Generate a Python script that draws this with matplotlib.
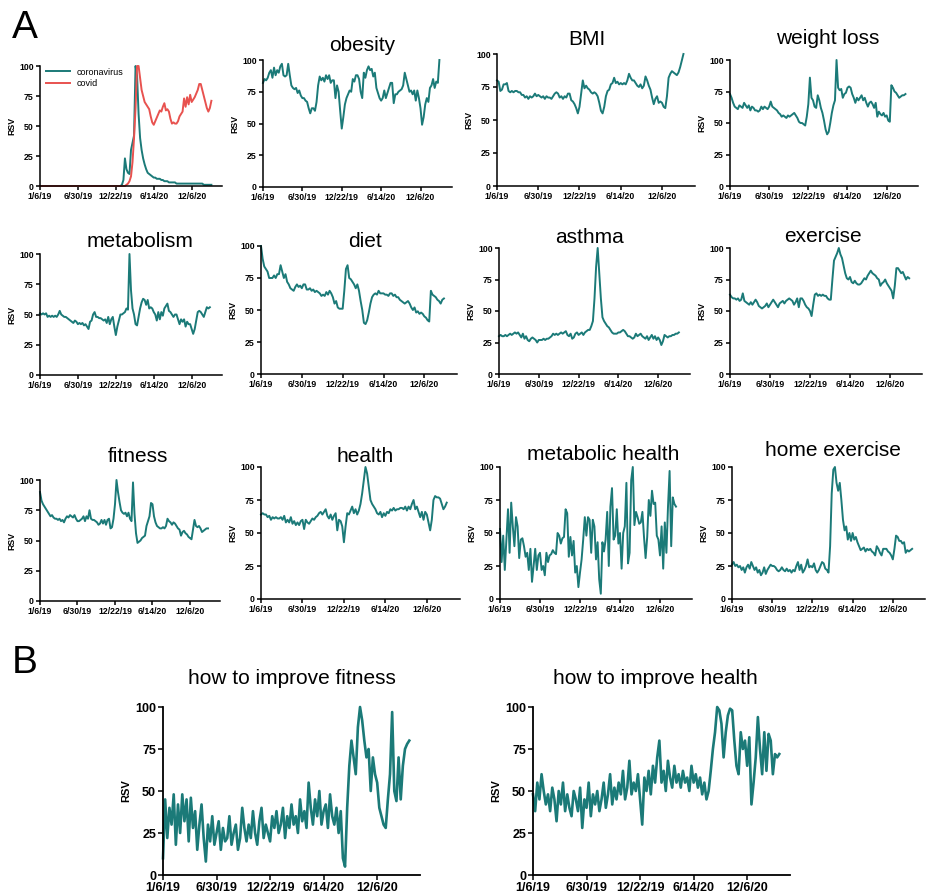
import matplotlib
matplotlib.use("Agg")
import matplotlib.pyplot as plt

plt.rcParams['font.family'] = ['Liberation Sans', 'DejaVu Sans']

TEAL = '#1b7a78'
RED = '#e8524f'

# weekly Google Trends RSV, week 0 = 1/6/19
tick_pos = [0, 25, 50, 75, 100]
tick_labels = ['1/6/19', '6/30/19', '12/22/19', '6/14/20', '12/6/20']

coronavirus = [0, 0, 0, 0, 0, 0, 0, 0, 0, 0,
               0, 0, 0, 0, 0, 0, 0, 0, 0, 0,
               0, 0, 0, 0, 0, 0, 0, 0, 0, 0,
               0, 0, 0, 0, 0, 0, 0, 0, 0, 0,
               0, 0, 0, 0, 0, 0, 0, 0, 0, 0,
               0, 0, 0, 0, 1, 5, 23, 14, 11, 10,
               30, 36, 42, 100, 92, 60, 40, 30, 23, 18,
               14, 11, 10, 9, 8, 7, 7, 6, 6, 6,
               5, 5, 4, 4, 4, 3, 3, 3, 3, 3,
               2, 2, 2, 2, 2, 2, 2, 2, 2, 2,
               2, 2, 2, 2, 2, 2, 2, 2, 1, 1,
               1, 1, 1, 1]
covid = [0, 0, 0, 0, 0, 0, 0, 0, 0, 0,
         0, 0, 0, 0, 0, 0, 0, 0, 0, 0,
         0, 0, 0, 0, 0, 0, 0, 0, 0, 0,
         0, 0, 0, 0, 0, 0, 0, 0, 0, 0,
         0, 0, 0, 0, 0, 0, 0, 0, 0, 0,
         0, 0, 0, 0, 0, 0, 0, 1, 2, 4,
         8, 20, 40, 65, 100, 100, 90, 80, 75, 70,
         68, 66, 64, 58, 53, 51, 54, 57, 60, 63,
         62, 66, 69, 63, 64, 62, 56, 52, 53, 52,
         52, 54, 58, 60, 62, 73, 66, 74, 68, 76,
         70, 72, 74, 77, 80, 85, 85, 80, 75, 70,
         65, 62, 65, 71]
obesity = [82, 85, 84, 86, 90, 92, 86, 94, 88, 92,
           90, 95, 97, 88, 87, 88, 97, 88, 80, 78,
           77, 78, 74, 76, 72, 70, 70, 68, 67, 62,
           58, 62, 62, 60, 67, 80, 87, 84, 86, 83,
           88, 85, 88, 82, 84, 84, 70, 80, 75, 60,
           46, 55, 65, 70, 73, 76, 75, 85, 83, 88,
           88, 85, 75, 70, 90, 86, 92, 95, 92, 93,
           87, 90, 78, 74, 70, 68, 70, 76, 70, 74,
           78, 82, 82, 66, 73, 73, 75, 76, 77, 80,
           90, 85, 80, 75, 76, 73, 76, 68, 76, 70,
           62, 49, 55, 65, 70, 67, 78, 80, 85, 78,
           83, 82, 100]
bmi = [80, 79, 72, 73, 77, 77, 78, 72, 71, 72,
       71, 72, 72, 71, 71, 69, 69, 67, 68, 66,
       68, 67, 68, 70, 68, 69, 68, 67, 68, 66,
       68, 67, 67, 66, 68, 70, 71, 70, 67, 68,
       66, 68, 67, 70, 70, 65, 64, 62, 59, 55,
       60, 70, 80, 74, 76, 74, 73, 71, 70, 71,
       70, 68, 63, 57, 55, 60, 68, 72, 73, 77,
       78, 82, 78, 79, 77, 78, 77, 78, 77, 80,
       85, 82, 80, 80, 78, 76, 75, 77, 74, 76,
       83, 80, 76, 73, 67, 62, 66, 68, 63, 64,
       63, 60, 59, 68, 82, 85, 87, 86, 85, 84,
       86, 90, 95, 100]
weight_loss = [73, 70, 66, 63, 62, 61, 64, 63, 62, 66,
               64, 62, 64, 60, 63, 62, 60, 60, 59, 60,
               63, 61, 63, 62, 61, 63, 67, 63, 62, 61,
               60, 58, 57, 55, 56, 55, 54, 56, 55, 56,
               57, 58, 56, 54, 51, 50, 50, 49, 48, 55,
               65, 86, 70, 68, 63, 62, 72, 68, 62, 58,
               52, 45, 41, 43, 50, 58, 64, 68, 100, 78,
               76, 77, 70, 73, 74, 78, 79, 78, 73, 70,
               66, 70, 68, 70, 72, 68, 70, 66, 63, 66,
               67, 65, 62, 66, 55, 59, 57, 56, 58, 55,
               56, 52, 51, 80, 78, 75, 74, 72, 70, 71,
               72, 72, 73]
metabolism = [51, 50, 51, 50, 51, 48, 49, 48, 49, 48,
              49, 48, 50, 53, 50, 49, 48, 48, 47, 46,
              45, 44, 43, 45, 44, 42, 43, 42, 43, 41,
              42, 40, 38, 44, 45, 50, 52, 48, 48, 47,
              47, 46, 45, 46, 43, 48, 42, 46, 48, 40,
              33, 40, 45, 50, 50, 51, 52, 55, 54, 100,
              70, 55, 50, 42, 41, 48, 55, 60, 63, 62,
              58, 62, 55, 56, 55, 52, 50, 45, 52, 46,
              52, 49, 55, 57, 59, 53, 52, 50, 48, 50,
              50, 46, 42, 46, 44, 46, 40, 44, 42, 42,
              38, 34, 38, 45, 52, 53, 52, 50, 48, 52,
              56, 55, 56]
diet = [100, 90, 84, 82, 80, 75, 75, 75, 77, 75,
        78, 78, 85, 80, 75, 78, 72, 70, 67, 66,
        65, 68, 70, 68, 69, 67, 70, 70, 66, 66,
        67, 65, 66, 64, 65, 64, 63, 61, 62, 61,
        64, 62, 65, 63, 60, 55, 57, 52, 51, 51,
        51, 65, 82, 85, 75, 74, 72, 70, 67, 70,
        65, 57, 50, 40, 39, 42, 48, 55, 60, 62,
        63, 62, 65, 63, 63, 63, 62, 62, 61, 63,
        63, 61, 62, 60, 60, 58, 57, 56, 55, 56,
        57, 55, 52, 50, 52, 48, 49, 47, 48, 47,
        45, 44, 42, 41, 65, 62, 61, 60, 58, 57,
        55, 58, 59]
asthma = [30, 31, 30, 30, 31, 30, 31, 32, 31, 32,
          33, 32, 33, 31, 29, 32, 28, 30, 27, 26,
          28, 29, 28, 27, 25, 27, 27, 27, 28, 27,
          28, 28, 29, 30, 32, 31, 32, 31, 32, 33,
          32, 33, 34, 31, 30, 32, 28, 29, 32, 33,
          31, 32, 33, 31, 33, 34, 35, 35, 38, 42,
          60, 85, 100, 80, 60, 45, 42, 40, 38, 37,
          35, 33, 32, 32, 32, 33, 33, 34, 35, 34,
          32, 30, 30, 29, 28, 29, 32, 30, 31, 32,
          30, 29, 28, 30, 27, 29, 31, 28, 30, 27,
          29, 27, 23, 26, 31, 30, 29, 30, 30, 31,
          31, 32, 32, 33]
exercise = [63, 61, 60, 60, 59, 60, 58, 59, 64, 58,
            57, 56, 55, 57, 55, 57, 59, 57, 54, 53,
            52, 53, 54, 56, 53, 55, 57, 59, 57, 55,
            53, 56, 57, 58, 56, 58, 59, 60, 59, 58,
            55, 57, 60, 53, 60, 60, 58, 55, 53, 52,
            50, 46, 55, 63, 64, 62, 63, 62, 63, 62,
            62, 60, 59, 59, 75, 90, 93, 96, 100, 95,
            92, 86, 80, 76, 75, 77, 73, 72, 74, 72,
            71, 71, 72, 74, 76, 75, 78, 80, 82, 80,
            79, 78, 76, 75, 70, 72, 73, 75, 72, 70,
            68, 66, 60, 70, 84, 84, 82, 80, 81, 78,
            75, 77, 76]
fitness = [90, 83, 80, 78, 76, 74, 72, 70, 71, 69,
           68, 68, 67, 68, 66, 67, 65, 68, 70, 69,
           71, 70, 69, 71, 68, 66, 66, 67, 68, 70,
           66, 70, 68, 75, 68, 67, 67, 66, 65, 63,
           64, 67, 64, 67, 63, 67, 68, 60, 61, 68,
           80, 100, 90, 82, 75, 73, 72, 73, 70, 73,
           68, 66, 98, 72, 56, 48, 49, 50, 52, 53,
           54, 62, 66, 70, 81, 80, 70, 65, 62, 61,
           60, 60, 61, 60, 62, 68, 66, 65, 63, 65,
           64, 62, 60, 59, 54, 57, 58, 56, 55, 53,
           52, 51, 59, 67, 62, 61, 62, 60, 57, 58,
           59, 60, 60]
health = [64, 65, 64, 64, 62, 63, 60, 62, 61, 62,
          61, 61, 62, 60, 63, 58, 60, 58, 62, 57,
          59, 56, 58, 56, 59, 60, 53, 60, 58, 57,
          59, 61, 60, 62, 63, 65, 66, 64, 66, 68,
          63, 61, 64, 60, 63, 65, 52, 60, 59, 55,
          43, 55, 65, 64, 67, 70, 65, 68, 64, 67,
          72, 80, 90, 100, 95, 85, 75, 72, 70, 68,
          65, 64, 66, 62, 65, 63, 66, 65, 68, 67,
          69, 67, 68, 68, 69, 69, 68, 70, 67, 70,
          68, 72, 75, 68, 70, 66, 62, 66, 60, 66,
          64, 58, 52, 60, 75, 78, 77, 77, 76, 72,
          68, 70, 73]
metabolic_health = [53, 28, 48, 22, 45, 68, 35, 73, 55, 40,
                    62, 55, 31, 45, 46, 40, 32, 35, 22, 38,
                    13, 25, 38, 22, 33, 35, 22, 25, 18, 35,
                    28, 33, 34, 37, 35, 34, 50, 48, 42, 46,
                    47, 68, 65, 32, 47, 33, 44, 20, 25, 9,
                    20, 30, 45, 62, 48, 62, 60, 35, 60, 55,
                    30, 43, 15, 4, 43, 36, 45, 66, 25, 70,
                    84, 45, 48, 68, 42, 50, 23, 50, 55, 88,
                    27, 35, 90, 100, 56, 66, 62, 57, 58, 66,
                    47, 31, 47, 75, 63, 82, 72, 73, 48, 45,
                    33, 55, 23, 58, 35, 70, 97, 40, 77, 72,
                    70]
home_exercise = [26, 28, 25, 26, 24, 25, 22, 24, 20, 24,
                 26, 23, 28, 25, 22, 24, 20, 22, 18, 20,
                 24, 19, 22, 24, 26, 25, 25, 24, 22, 21,
                 22, 24, 22, 21, 23, 21, 22, 20, 22, 21,
                 25, 28, 22, 26, 20, 22, 25, 30, 24, 25,
                 24, 27, 22, 20, 22, 25, 28, 27, 23, 22,
                 20, 40, 80, 98, 100, 88, 82, 88, 75, 60,
                 52, 55, 45, 50, 44, 50, 45, 47, 43, 40,
                 37, 38, 39, 36, 38, 37, 38, 36, 35, 33,
                 40, 38, 35, 33, 38, 38, 38, 36, 35, 33,
                 30, 38, 48, 47, 44, 44, 42, 43, 35, 37,
                 36, 37, 38]
improve_fitness = [10, 45, 22, 40, 30, 48, 18, 42, 25, 48,
                   32, 45, 20, 46, 28, 38, 15, 30, 42, 22,
                   8, 30, 20, 35, 18, 25, 32, 15, 28, 20,
                   22, 35, 18, 25, 30, 15, 22, 40, 28, 20,
                   30, 22, 38, 25, 18, 32, 40, 22, 30, 25,
                   20, 35, 28, 38, 25, 30, 40, 22, 35, 28,
                   42, 30, 35, 25, 45, 32, 38, 28, 55, 40,
                   30, 45, 35, 50, 30, 38, 42, 28, 48, 35,
                   30, 40, 25, 38, 10, 5, 40, 65, 80, 70,
                   60, 88, 100, 92, 80, 70, 75, 50, 70, 60,
                   55, 40, 35, 30, 28, 45, 60, 97, 50, 44,
                   70, 45, 65, 75, 78, 80]
improve_health = [48, 38, 55, 45, 60, 50, 42, 48, 38, 52,
                  45, 32, 50, 42, 55, 38, 48, 40, 35, 50,
                  45, 38, 52, 28, 45, 40, 55, 35, 48, 42,
                  50, 38, 45, 55, 40, 48, 60, 42, 52, 45,
                  55, 48, 62, 45, 52, 68, 48, 55, 50, 60,
                  45, 30, 58, 50, 62, 48, 65, 55, 70, 80,
                  55, 62, 50, 68, 58, 52, 65, 55, 60, 52,
                  62, 55, 58, 50, 65, 55, 60, 52, 58, 48,
                  55, 45, 50, 62, 75, 85, 100, 98, 90, 70,
                  85, 95, 99, 98, 80, 65, 60, 85, 75, 80,
                  65, 82, 42, 55, 70, 94, 75, 60, 85, 62,
                  84, 80, 60, 72, 70, 72]

W, H = 929, 894
fig = plt.figure(figsize=(W / 100, H / 100), dpi=100)


def panel(box, series, title=None, tpos=None, big=False):
    l, t, r, b = box
    ax = fig.add_axes([l / W, 1 - b / H, (r - l) / W, (b - t) / H])
    for s, c in series:
        ax.plot(range(len(s)), s, color=c, lw=1.9 if big else 1.4,
                clip_on=False, solid_joinstyle='round')
    ax.set_xlim(0, 120)
    ax.set_ylim(0, 100)
    ax.set_yticks([0, 25, 50, 75, 100])
    ax.set_xticks(tick_pos, tick_labels)
    for side in ['top', 'right']:
        ax.spines[side].set_visible(False)
    for side in ['left', 'bottom']:
        ax.spines[side].set_linewidth(1.3 if big else 1.1)
    fs = 9 if big else 6.3
    ax.tick_params(labelsize=fs, width=1.1, length=3.5 if big else 3, pad=1.5)
    for lab in ax.get_xticklabels() + ax.get_yticklabels():
        lab.set_fontweight('bold')
    ax.set_ylabel('RSV', fontsize=8 if big else 6.3, fontweight='bold', labelpad=3 if big else 2)
    if title:
        fig.text(tpos[0] / W, 1 - tpos[1] / H, title, fontsize=15,
                 ha='center', va='baseline')
    return ax


ax = panel((40, 66, 222, 186), [(coronavirus, TEAL), (covid, RED)])
ax.legend(['coronavirus', 'covid'], loc='upper left', bbox_to_anchor=(0.0, 1.04),
          frameon=False, fontsize=6.5, handlelength=2.6, handletextpad=0.8,
          labelspacing=0.3, borderaxespad=0.3)

panel((263, 60, 452, 187), [(obesity, TEAL)], 'obesity', (362, 51))
panel((497, 54, 695, 186), [(bmi, TEAL)], 'BMI', (587, 45))
panel((730, 60, 918, 186), [(weight_loss, TEAL)], 'weight loss', (828, 44))

panel((40, 254, 222, 375), [(metabolism, TEAL)], 'metabolism', (140, 247))
panel((261, 246, 457, 374), [(diet, TEAL)], 'diet', (365, 247))
panel((499, 248, 690, 374), [(asthma, TEAL)], 'asthma', (590, 243))
panel((730, 248, 922, 374), [(exercise, TEAL)], 'exercise', (823, 242))

panel((40, 480, 220, 601), [(fitness, TEAL)], 'fitness', (138, 462))
panel((261, 467, 460, 599), [(health, TEAL)], 'health', (365, 462))
panel((500, 467, 692, 599), [(metabolic_health, TEAL)], 'metabolic health', (603, 460))
panel((732, 467, 925, 599), [(home_exercise, TEAL)], 'home exercise', (833, 456))

panel((163, 707, 420, 875), [(improve_fitness, TEAL)], 'how to improve fitness', (292, 684), big=True)
panel((533, 707, 790, 875), [(improve_health, TEAL)], 'how to improve health', (655, 684), big=True)

fig.text(12 / W, 1 - 38 / H, 'A', fontsize=28, va='baseline')
fig.text(12 / W, 1 - 673 / H, 'B', fontsize=28, va='baseline')

fig.savefig('out.png', dpi=100)
